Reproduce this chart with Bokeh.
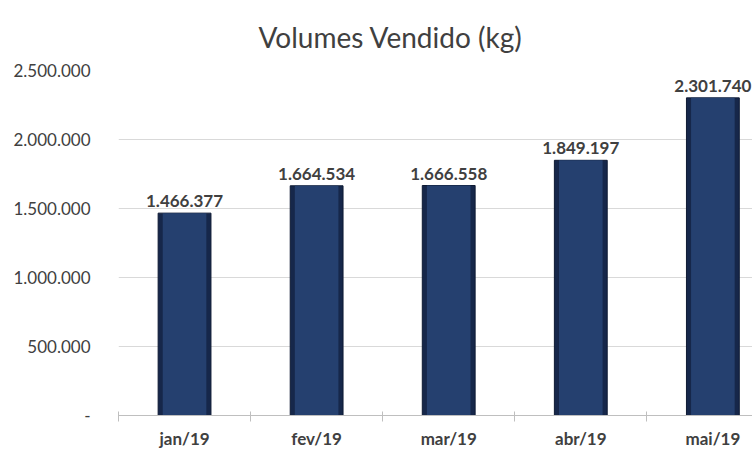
from bokeh.plotting import figure
from bokeh.models import ColumnDataSource, FixedTicker, Range1d, LabelSet
from bokeh.core.properties import value
from bokeh.embed import file_html
from bokeh.resources import INLINE

months = ["jan/19", "fev/19", "mar/19", "abr/19", "mai/19"]
volumes = [1466377, 1664534, 1666558, 1849197, 2301740]
y_ticks = [0, 500000, 1000000, 1500000, 2000000, 2500000]
y_tick_labels = ["-", "500.000", "1.000.000", "1.500.000", "2.000.000", "2.500.000"]
title_text = "Volumes Vendido (kg)"

def fmt(v):
    return f"{v:,}".replace(",", ".")

xs = list(range(len(months)))
src = ColumnDataSource(dict(x=xs, top=volumes, label=[fmt(v) for v in volumes]))

FONT = "Lato"
TXT = "#404040"

p = figure(width=752, height=451, output_backend="svg", toolbar_location=None,
           x_range=Range1d(-0.5, 4.3), y_range=Range1d(0, 2500000),
           min_border_left=118, min_border_right=0, min_border_top=70, min_border_bottom=20)
p.title.text = title_text
p.title.text_font = FONT
p.title.text_font_size = "28px"
p.title.text_font_style = "normal"
p.title.text_color = TXT
p.title.align = "left"
p.title.offset = 140
p.title.standoff = 34

p.outline_line_color = None
p.background_fill_color = "white"
p.border_fill_color = "white"

p.vbar(x="x", top="top", width=0.40, bottom=0, source=src,
       fill_color="#16274a", line_color="#0e1a33", line_width=1)
p.vbar(x="x", top="top", width=0.33, bottom=0, source=src,
       fill_color="#25406f", line_color=None)

labels = LabelSet(x="x", y="top", text="label", source=src, text_align="center",
                  text_baseline="bottom", y_offset=6, text_font=value(FONT),
                  text_font_size=value("17px"), text_font_style="bold", text_color=TXT)
p.add_layout(labels)

p.yaxis.ticker = FixedTicker(ticks=y_ticks)
p.yaxis.major_label_overrides = {t: l for t, l in zip(y_ticks, y_tick_labels)}
p.yaxis.axis_line_color = None
p.yaxis.major_tick_line_color = None
p.yaxis.minor_tick_line_color = None
p.yaxis.major_label_text_font = FONT
p.yaxis.major_label_text_font_size = "17px"
p.yaxis.major_label_text_color = TXT
p.yaxis.major_label_standoff = 22

p.xaxis.ticker = FixedTicker(ticks=xs, minor_ticks=[i - 0.5 for i in range(len(months) + 1)])
p.xaxis.major_label_overrides = {i: m for i, m in enumerate(months)}
p.xaxis.axis_line_color = "#bfbfbf"
p.xaxis.major_tick_line_color = None
p.xaxis.minor_tick_line_color = "#bfbfbf"
p.xaxis.minor_tick_out = 6
p.xaxis.minor_tick_in = 4
p.xaxis.major_label_text_font = FONT
p.xaxis.major_label_text_font_size = "17px"
p.xaxis.major_label_text_font_style = "bold"
p.xaxis.major_label_text_color = TXT
p.xaxis.major_label_standoff = 6

p.xgrid.grid_line_color = None
p.ygrid.grid_line_color = "#d9d9d9"
p.ygrid.grid_line_width = 1

open("out.html", "w").write(file_html(p, INLINE))
